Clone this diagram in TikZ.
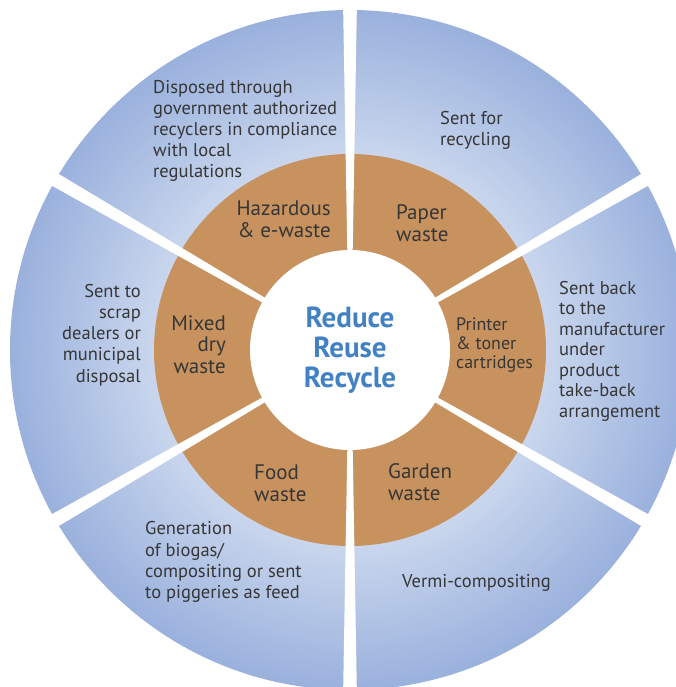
\documentclass[tikz,border=0pt]{standalone}
\usepackage{fontspec}
\setmainfont{PT Sans}
\definecolor{wastetan}{HTML}{C8925F}
\definecolor{ringlight}{HTML}{C9D6ED}
\definecolor{ringdark}{HTML}{9AB1DD}
\definecolor{rrrblue}{HTML}{4282C4}
\definecolor{lbltext}{HTML}{363636}
\pgfdeclareradialshading{ringshade}{\pgfpoint{0bp}{0bp}}{color(0bp)=(ringlight); color(14.4bp)=(ringlight); color(25bp)=(ringdark); color(50bp)=(ringdark)}

\begin{document}
\begin{tikzpicture}[x=1pt, y=1pt, line join=round,
	outtxt/.style={text=lbltext, inner sep=0pt, font=\fontsize{18.5}{21.2}\selectfont},
	intxt/.style={text=lbltext, inner sep=0pt, font=\fontsize{21}{22}\selectfont}]
	\def\rout{340} \def\rmid{196} \def\rin{100}
	\useasboundingbox (-350,-337) rectangle (326,350);
	\clip (-350,-337) rectangle (326,350);
	% rings and gaps
	\shade[shading=ringshade] (0,0) circle (\rout);
	\fill[wastetan] (0,0) circle (\rmid);
	\foreach \a in {30,90,...,330}
	{\fill[white, rotate=\a] (0,-1) -- (350,-7) -- (350,7) -- (0,1) -- cycle;}
	\fill[white] (0,0) circle (\rin);
	% outer ring
	\node[outtxt, anchor=west, align=left] (hazout) at (-197,219) {Disposed through\\government authorized\\recyclers in compliance\\with local\\regulations};
	\node[outtxt, anchor=west, align=left] (paperout) at (90,219.5) {Sent for\\recycling};
	\node[outtxt, anchor=east, align=right] (mixedout) at (-209,15) {Sent to\\scrap\\dealers or\\municipal\\disposal};
	\node[outtxt, anchor=west, align=left, font=\fontsize{18.5}{20.5}\selectfont] (printerout) at (209,-1) {Sent back\\to the\\manufacturer\\under\\product\\take-back\\arrangement};
	\node[outtxt, anchor=west, align=left] (foodout) at (-205,-212) {Generation\\of biogas/\\compositing or sent\\to piggeries as feed};
	\node[outtxt, anchor=west] (gardenout) at (52,-233) {Vermi-compositing};
	% inner ring
	\node[intxt, anchor=east, align=right] (haz) at (-19,131) {Hazardous\\\& e-waste};
	\node[intxt, anchor=west, align=left] (paper) at (46,127) {Paper\\waste};
	\node[intxt, anchor=east, align=right, font=\fontsize{21}{21.5}\selectfont] (mixed) at (-124,5.5) {Mixed\\dry\\waste};
	\node[intxt, anchor=west, align=left, font=\fontsize{18}{19}\selectfont] (printer) at (106,5) {Printer\\\& toner\\cartridges};
	\node[intxt, anchor=west, align=left] (food) at (-96,-133) {Food\\waste};
	\node[intxt, anchor=west, align=left] (garden) at (38,-132) {Garden\\waste};
	% centre
	\node[text=rrrblue, inner sep=0pt, font=\fontsize{29}{30}\selectfont\bfseries, align=center] (rrr) at (0,0) {Reduce\\Reuse\\Recycle};
\end{tikzpicture}
\end{document}
